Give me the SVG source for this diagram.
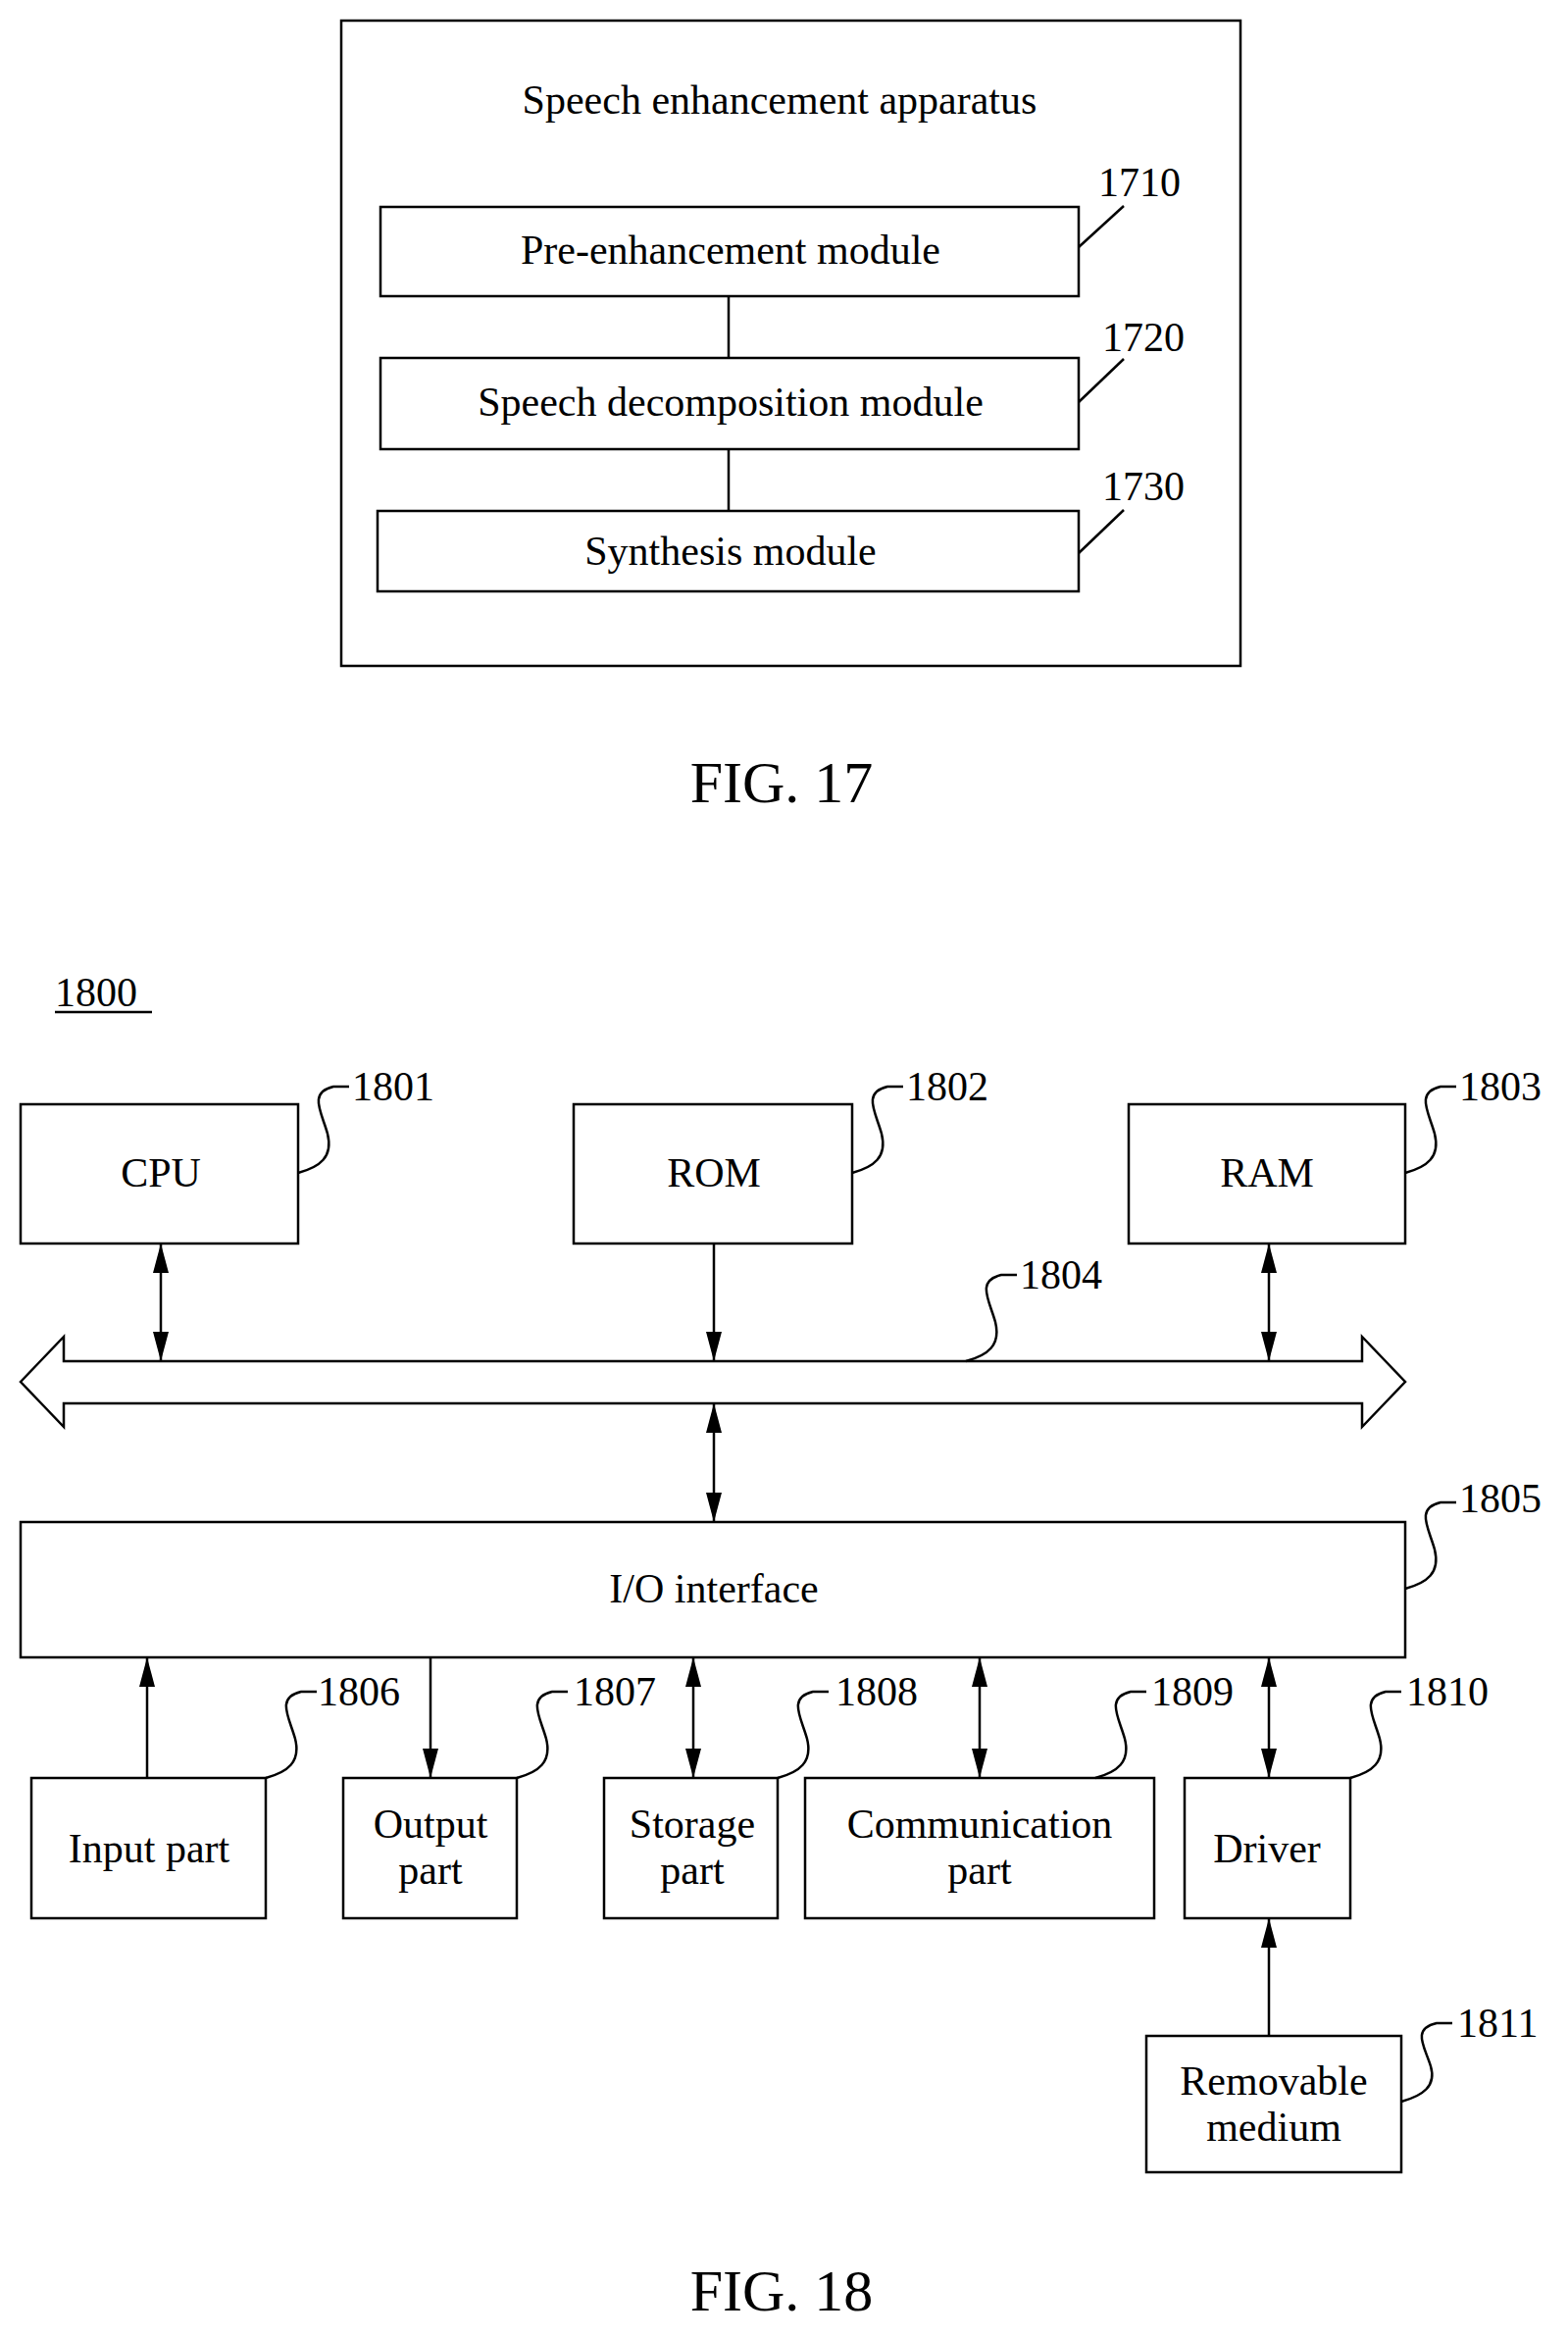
<svg xmlns="http://www.w3.org/2000/svg" width="1599" height="2382" viewBox="0 0 1599 2382">
<defs>
<marker id="ah" markerUnits="userSpaceOnUse" markerWidth="30" markerHeight="16" refX="30" refY="8" orient="auto-start-reverse"><path d="M0,0 L30,8 L0,16 z" fill="#000"/></marker>
<style>
rect,.b{fill:#fff;stroke:#000;stroke-width:2.5}
.l{fill:none;stroke:#000;stroke-width:2.5}
.a{fill:none;stroke:#000;stroke-width:2.5;marker-end:url(#ah)}
.d{fill:none;stroke:#000;stroke-width:2.5;marker-start:url(#ah);marker-end:url(#ah)}
text{font-family:"Liberation Serif",serif;font-size:42px;fill:#000}
.c{text-anchor:middle}
.f{font-size:60px}
</style>
</defs>
<g id="fig17">
<rect x="348" y="21" width="917" height="658"/>
<text class="c" x="795" y="116">Speech enhancement apparatus</text>
</g>
<g id="n1710"><rect x="388" y="211" width="712" height="91"/><text class="c" x="745" y="269">Pre-enhancement module</text><text x="1120" y="200">1710</text></g>
<g id="n1720"><rect x="388" y="365" width="712" height="93"/><text class="c" x="745" y="424">Speech decomposition module</text><text x="1124" y="358">1720</text></g>
<g id="n1730"><rect x="385" y="521" width="715" height="82"/><text class="c" x="745" y="576">Synthesis module</text><text x="1124" y="510">1730</text></g>
<text class="c f" x="797" y="818">FIG. 17</text>
<text x="56" y="1026">1800</text>
<line class="l" x1="56" y1="1032" x2="155" y2="1032"/>
<g id="cpu"><rect x="21" y="1126" width="283" height="142"/><text class="c" x="164" y="1210">CPU</text><text x="359" y="1122">1801</text></g>
<g id="rom"><rect x="585" y="1126" width="284" height="142"/><text class="c" x="728" y="1210">ROM</text><text x="924" y="1122">1802</text></g>
<g id="ram"><rect x="1151" y="1126" width="282" height="142"/><text class="c" x="1292" y="1210">RAM</text><text x="1488" y="1122">1803</text></g>
<g id="bus"><path class="b" d="M21,1409 L65,1363 L65,1388 L1389,1388 L1389,1363 L1433,1409 L1389,1455 L1389,1431 L65,1431 L65,1455 Z"/><text x="1040" y="1314">1804</text></g>
<g id="io"><rect x="21" y="1552" width="1412" height="138"/><text class="c" x="728" y="1634">I/O interface</text><text x="1488" y="1542">1805</text></g>
<g id="input"><rect x="32" y="1813" width="239" height="143"/><text class="c" x="152" y="1899">Input part</text><text x="324" y="1739">1806</text></g>
<g id="output"><rect x="350" y="1813" width="177" height="143"/><text class="c" x="439" y="1874">Output</text><text class="c" x="439" y="1921">part</text><text x="585" y="1739">1807</text></g>
<g id="storage"><rect x="616" y="1813" width="177" height="143"/><text class="c" x="706" y="1874">Storage</text><text class="c" x="706" y="1921">part</text><text x="852" y="1739">1808</text></g>
<g id="comm"><rect x="821" y="1813" width="356" height="143"/><text class="c" x="999" y="1874">Communication</text><text class="c" x="999" y="1921">part</text><text x="1174" y="1739">1809</text></g>
<g id="driver"><rect x="1208" y="1813" width="169" height="143"/><text class="c" x="1292" y="1899">Driver</text><text x="1434" y="1739">1810</text></g>
<g id="removable"><rect x="1169" y="2076" width="260" height="139"/><text class="c" x="1299" y="2136">Removable</text><text class="c" x="1299" y="2183">medium</text><text x="1486" y="2077">1811</text></g>
<text class="c f" x="797" y="2356">FIG. 18</text>
<g id="connectors">
<line class="l" x1="743" y1="302" x2="743" y2="365"/>
<line class="l" x1="743" y1="458" x2="743" y2="521"/>
<line class="l" x1="1100" y1="252" x2="1146" y2="210"/>
<line class="l" x1="1100" y1="410" x2="1146" y2="366"/>
<line class="l" x1="1100" y1="564" x2="1146" y2="520"/>
<line class="d" x1="164" y1="1268" x2="164" y2="1388"/>
<line class="a" x1="728" y1="1268" x2="728" y2="1388"/>
<line class="d" x1="1294" y1="1268" x2="1294" y2="1388"/>
<line class="d" x1="728" y1="1431" x2="728" y2="1552"/>
<line class="a" x1="150" y1="1813" x2="150" y2="1690"/>
<line class="a" x1="439" y1="1690" x2="439" y2="1813"/>
<line class="d" x1="707" y1="1690" x2="707" y2="1813"/>
<line class="d" x1="999" y1="1690" x2="999" y2="1813"/>
<line class="d" x1="1294" y1="1690" x2="1294" y2="1813"/>
<line class="a" x1="1294" y1="2076" x2="1294" y2="1956"/>
<path class="l" d="M304,1196 c22,-6 36,-16 30,-40 c-6,-22 -20,-42 6,-48 l16,0"/>
<path class="l" d="M869,1196 c22,-6 36,-16 30,-40 c-6,-22 -20,-42 6,-48 l16,0"/>
<path class="l" d="M1433,1196 c22,-6 36,-16 30,-40 c-6,-22 -20,-42 6,-48 l16,0"/>
<path class="l" d="M985,1388 c22,-6 36,-16 30,-40 c-6,-22 -20,-42 6,-48 l16,0"/>
<path class="l" d="M1433,1620 c22,-6 36,-16 30,-40 c-6,-22 -20,-42 6,-48 l16,0"/>
<path class="l" d="M271,1813 c22,-6 36,-16 30,-40 c-6,-22 -20,-42 6,-48 l16,0"/>
<path class="l" d="M527,1813 c22,-6 36,-16 30,-40 c-6,-22 -20,-42 6,-48 l16,0"/>
<path class="l" d="M793,1813 c22,-6 36,-16 30,-40 c-6,-22 -20,-42 6,-48 l16,0"/>
<path class="l" d="M1117,1813 c22,-6 36,-16 30,-40 c-6,-22 -20,-42 6,-48 l16,0"/>
<path class="l" d="M1377,1813 c22,-6 36,-16 30,-40 c-6,-22 -20,-42 6,-48 l16,0"/>
<path class="l" d="M1429,2143 c22,-6 36,-16 30,-36 c-6,-20 -20,-38 6,-44 l16,0"/>
</g>
</svg>
